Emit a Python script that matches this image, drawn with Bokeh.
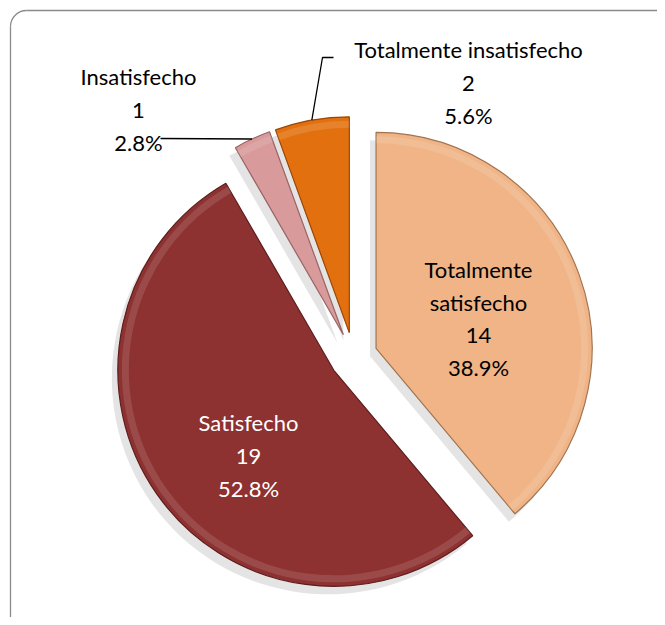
import numpy as np
from bokeh.plotting import figure
from bokeh.models import Range1d, ColumnDataSource
from bokeh.core.properties import value
from bokeh.embed import file_html
from bokeh.resources import INLINE

# ---- data ----
categories = ["Totalmente satisfecho", "Satisfecho", "Insatisfecho", "Totalmente insatisfecho"]
label_names = ["Totalmente\nsatisfecho", "Satisfecho", "Insatisfecho", "Totalmente insatisfecho"]
counts = [14, 19, 1, 2]
colors = ["#F0B487", "#8E3131", "#D89A9A", "#E3700F"]
edge_colors = ["#A0744F", "#5E1E1E", "#9A6464", "#9A4606"]
text_colors = ["#000000", "#FFFFFF", "#000000", "#000000"]

# ---- layout ----
W, H = 657, 617
p = figure(width=W, height=H, x_range=Range1d(0, W), y_range=Range1d(0, H),
           output_backend="svg", toolbar_location=None, min_border=0,
           x_axis_location=None, y_axis_location=None)
p.grid.visible = False
p.outline_line_color = None
p.background_fill_color = "white"
p.border_fill_color = "white"

# chart-area frame (rounded top-left corner; right/bottom edges fall outside the window)
FR = 16
fl, ft = 10, H - 10
frame_col = "#8A8A8A"
p.line(x=[fl, fl], y=[0, ft - FR], line_color=frame_col, line_width=1.3)
p.line(x=[fl + FR, W], y=[ft, ft], line_color=frame_col, line_width=1.3)
p.arc(x=fl + FR, y=ft - FR, radius=FR, start_angle=np.pi / 2, end_angle=np.pi,
      line_color=frame_col, line_width=1.3)

cx, cy = 353.0, H - 356.0
R = 216.0
EXP = 24.0

total = float(sum(counts))
cum = np.cumsum([0] + counts) / total * 2 * np.pi
t1, t2 = cum[:-1], cum[1:]
start = np.pi / 2 - t2
end = np.pi / 2 - t1
mid = np.pi / 2 - (t1 + t2) / 2
sx = cx + EXP * np.cos(mid)
sy = cy + EXP * np.sin(mid)

# shadows
p.wedge(x=sx - 6, y=sy - 8, radius=R, start_angle=start, end_angle=end,
        fill_color="#D6D6D6", fill_alpha=0.65, line_color=None)

src = ColumnDataSource(dict(x=sx, y=sy, s=start, e=end, c=colors, ec=edge_colors))
p.wedge(x="x", y="y", radius=R, start_angle="s", end_angle="e",
        fill_color="c", line_color="ec", line_width=1.2, source=src)
# bevel highlight
p.annular_wedge(x="x", y="y", inner_radius=R - 11, outer_radius=R - 4,
                start_angle="s", end_angle="e", fill_color="white", fill_alpha=0.12,
                line_color=None, source=src)

# labels
pct = [f"{c / total * 100:.1f}%" for c in counts]
texts = [f"{n}\n{c}\n{q}" for n, c, q in zip(label_names, counts, pct)]
label_x = [478, 248, 138, 468]
label_y = [H - 318, H - 455, H - 109, H - 82]
p.text(x=label_x, y=label_y, text=texts, text_color=text_colors,
       text_font=value("Lato"), text_font_size="22px", text_align="center",
       text_baseline="middle", text_line_height=1.22)

# leader lines
ox = sx + R * np.cos(mid)
oy = sy + R * np.sin(mid)
p.line(x=[160, ox[2]], y=[H - 138, oy[2]], line_color="black", line_width=1.3)
p.line(x=[333, 322, ox[3]], y=[H - 57, H - 57, oy[3]], line_color="black", line_width=1.3)

open("out.html", "w").write(file_html(p, INLINE))
